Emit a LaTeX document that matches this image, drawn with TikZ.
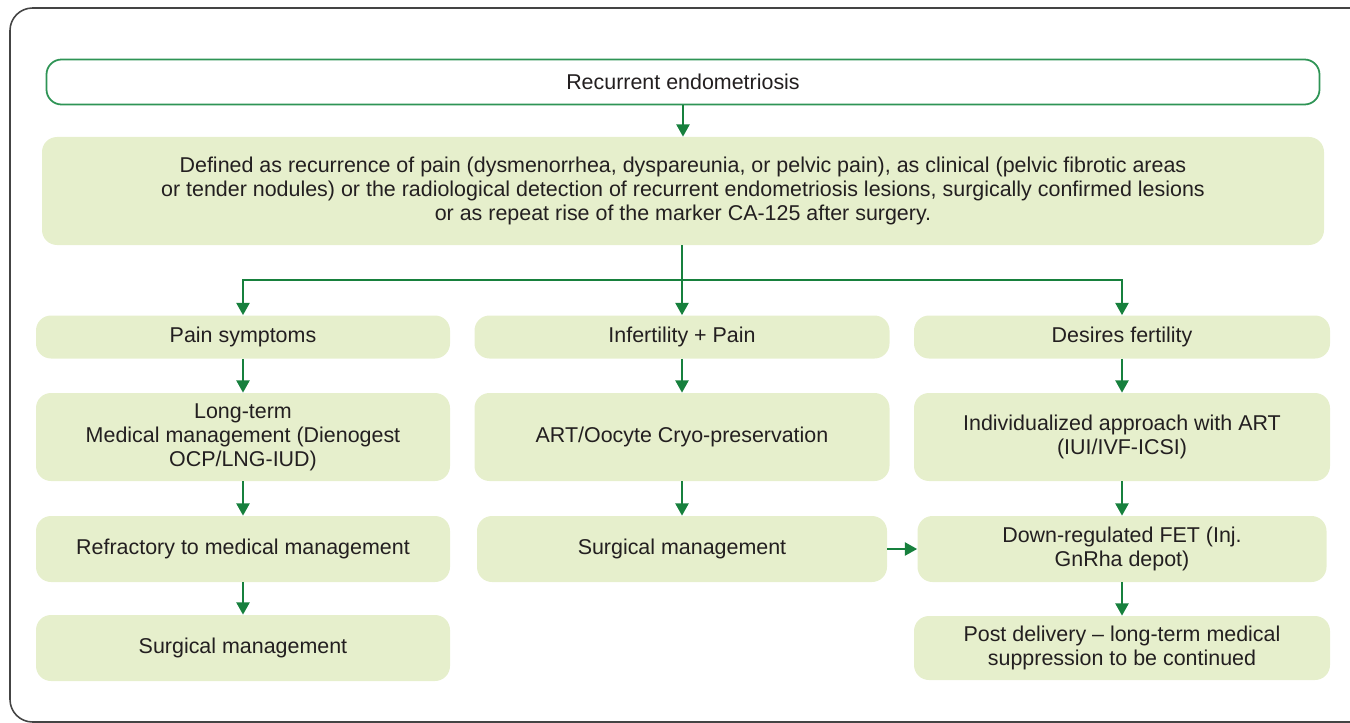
\documentclass[tikz,border=0pt]{standalone}
\usepackage{fontspec}
\setmainfont{Liberation Sans}
\usepackage{xcolor}
\usetikzlibrary{arrows.meta,positioning,calc}

\definecolor{boxfill}{HTML}{E6EFCC}
\definecolor{topline}{HTML}{2E9455}
\definecolor{arrowgreen}{HTML}{17803D}
\definecolor{textgray}{HTML}{231F20}
\definecolor{framegray}{HTML}{444444}

\tikzset{
    stage/.style={rounded corners=0.3cm, fill=boxfill, text=textgray, align=center,
        inner sep=0pt, font=\fontsize{12.2}{13.6}\selectfont},
    flow/.style={arrowgreen, line width=1.1pt, -{Triangle[width=7.5pt,length=7pt]}},
}

\begin{document}
\begin{tikzpicture}[x=0.02cm, y=-0.02cm]
    \useasboundingbox (0,0) rectangle (1350,723);
    % outer frame
    \draw[framegray, line width=0.9pt, rounded corners=0.45cm] (10,8) rectangle (1390,722);

    % top of the chart
    \node[stage, fill=white, draw=topline, line width=1pt, minimum width=1273*0.02cm, minimum height=45*0.02cm] (recur) at (683,82) {Recurrent endometriosis};
    \node[stage, minimum width=1282*0.02cm, minimum height=108*0.02cm] (defined) at (683,191)
        {Defined as recurrence of pain (dysmenorrhea, dyspareunia, or pelvic pain), as clinical (pelvic fibrotic areas\\
         or tender nodules) or the radiological detection of recurrent endometriosis lesions, surgically confirmed lesions\\
         or as repeat rise of the marker CA-125 after surgery.};

    % left column
    \node[stage, minimum width=414*0.02cm, minimum height=43*0.02cm] (pain) at (243,337) {Pain symptoms};
    \node[stage, minimum width=414*0.02cm, minimum height=88*0.02cm] (longterm) at (243,437) {Long-term\\Medical management (Dienogest\\OCP/LNG-IUD)};
    \node[stage, minimum width=414*0.02cm, minimum height=66*0.02cm] (refract) at (243,549) {Refractory to medical management};
    \node[stage, minimum width=414*0.02cm, minimum height=66*0.02cm] (surgleft) at (243,648) {Surgical management};

    % middle column
    \node[stage, minimum width=415*0.02cm, minimum height=43*0.02cm] (infert) at (682,337) {Infertility + Pain};
    \node[stage, minimum width=415*0.02cm, minimum height=88*0.02cm] (art) at (682,437) {ART/Oocyte Cryo-preservation};
    \node[stage, minimum width=410*0.02cm, minimum height=66*0.02cm] (surgmid) at (682,549) {Surgical management};

    % right column
    \node[stage, minimum width=416*0.02cm, minimum height=43*0.02cm] (desire) at (1122,337) {Desires fertility};
    \node[stage, minimum width=416*0.02cm, minimum height=88*0.02cm] (indiv) at (1122,437) {Individualized approach with ART\\(IUI/IVF-ICSI)};
    \node[stage, minimum width=409*0.02cm, minimum height=66*0.02cm] (fet) at (1122,549) {Down-regulated FET (Inj.\\GnRha depot)};
    \node[stage, minimum width=416*0.02cm, minimum height=64*0.02cm] (postdel) at (1122,648) {Post delivery -- long-term medical\\suppression to be continued};

    % connectors
    \coordinate (split) at (682,280);
    \draw[flow] (recur) -- (defined);
    \draw[flow] (defined.south -| split) -- (infert);
    \draw[flow] (split) -| (pain);
    \draw[flow] (split) -| (desire);
    \draw[flow] (pain) -- (longterm);
    \draw[flow] (longterm) -- (refract);
    \draw[flow] (refract) -- (surgleft);
    \draw[flow] (infert) -- (art);
    \draw[flow] (art) -- (surgmid);
    \draw[flow] (desire) -- (indiv);
    \draw[flow] (indiv) -- (fet);
    \draw[flow] (fet) -- (postdel);
    \draw[flow] (surgmid) -- (fet);
\end{tikzpicture}
\end{document}
